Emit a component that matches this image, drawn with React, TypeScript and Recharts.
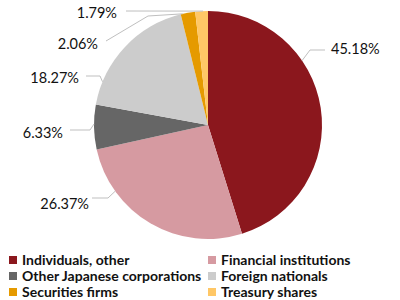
import React from 'react'
import { PieChart, Pie, Cell, Legend } from 'recharts'

const categories = [
  'Individuals, other',
  'Financial institutions',
  'Other Japanese corporations',
  'Foreign nationals',
  'Securities firms',
  'Treasury shares',
]
const shares = [45.18, 26.37, 6.33, 18.27, 2.06, 1.79]
const labels = ['45.18%', '26.37%', '6.33%', '18.27%', '2.06%', '1.79%']

const COLORS = ['#8B171D', '#D69AA1', '#666666', '#CCCCCC', '#E59A00', '#FFC766']

// label placement relative to the pie centre (Excel-style manual positions)
const LABEL_LAYOUT = [
  { dx: 123, dy: -77, anchor: 'start', line: [[117, -75], [102, -75]], edge: 55.6 },
  { dx: -119, dy: 78, anchor: 'end', line: [[-116, 73], [-100, 73]], edge: 234.5 },
  { dx: -145, dy: 7, anchor: 'end', line: [[-138, 5], [-118, 5]], edge: 270.5 },
  { dx: -129, dy: -48, anchor: 'end', line: [[-122, -49], [-108, -49]], edge: 292.3 },
  { dx: -110, dy: -82, anchor: 'end', line: [[-102, -84], [-60, -109]], edge: 347.2 },
  { dx: -91, dy: -113, anchor: 'end', line: [[-82, -114]], edge: 357.5 },
]

const data = categories.map((name, i) => ({ name, value: shares[i] }))

const FONT = 'Lato, "Open Sans", sans-serif'

function renderLabel(props: any) {
  const { cx, cy, outerRadius, index } = props
  const l = LABEL_LAYOUT[index]
  const a = (l.edge * Math.PI) / 180
  const ex = cx + outerRadius * Math.sin(a)
  const ey = cy - outerRadius * Math.cos(a)
  const pts = l.line.map(([x, y]) => `${cx + x},${cy + y}`).concat(`${ex},${ey}`)
  return (
    <g key={`lbl-${index}`}>
      <polyline points={pts.join(' ')} fill="none" stroke="#BFBFBF" strokeWidth={1} />
      <text
        x={cx + l.dx}
        y={cy + l.dy}
        textAnchor={l.anchor}
        dominantBaseline="central"
        fontSize={14.5}
        fontFamily={FONT}
        fill="#111"
      >
        {labels[index]}
      </text>
    </g>
  )
}

function renderLegend() {
  return (
    <div
      style={{
        display: 'grid',
        gridTemplateColumns: '199px 190px',
        rowGap: 1,
        fontFamily: FONT,
        fontWeight: 700,
        fontSize: 14,
        lineHeight: '15px',
        paddingLeft: 9,
        color: '#111',
      }}
    >
      {categories.map((c, i) => (
        <div key={c} style={{ display: 'flex', alignItems: 'center', whiteSpace: 'nowrap' }}>
          <span style={{ width: 8, height: 8, background: COLORS[i], marginRight: 5, display: 'inline-block' }} />
          {c}
        </div>
      ))}
    </div>
  )
}

export default function App() {
  return (
    <div style={{ position: 'absolute', left: 0, top: 0, width: 400, height: 300, background: '#fff' }}>
      <PieChart width={400} height={300} margin={{ top: 0, right: 0, bottom: 0, left: 0 }}>
        <Pie
          data={data}
          dataKey="value"
          nameKey="name"
          cx={208}
          cy={125}
          outerRadius={114}
          startAngle={90}
          endAngle={-270}
          stroke="none"
          label={renderLabel}
          labelLine={false}
          isAnimationActive={false}
        >
          {data.map((d, i) => (
            <Cell key={d.name} fill={COLORS[i]} />
          ))}
        </Pie>
        <Legend
          content={renderLegend}
          wrapperStyle={{ position: 'absolute', left: 0, top: 252, width: 400 }}
        />
      </PieChart>
    </div>
  )
}
